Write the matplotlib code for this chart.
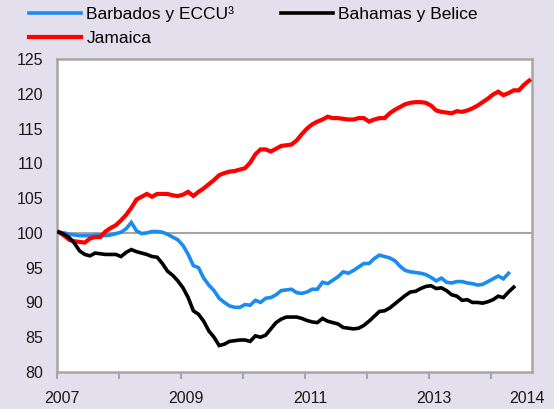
import numpy as np
import matplotlib
matplotlib.use("Agg")
import matplotlib.pyplot as plt
import matplotlib.transforms as mtransforms

plt.rcParams["font.family"] = ["Liberation Sans", "DejaVu Sans"]

# monthly index values, starting January 2007
barbados = [100.1, 100.0, 99.8, 99.7, 99.6, 99.6, 99.6, 99.7, 99.7, 99.6, 99.7, 99.9,
            100.1, 100.6, 101.5, 100.3, 99.9, 100.0, 100.2, 100.2, 100.1, 99.8, 99.4, 99.0,
            98.2, 96.9, 95.3, 95.0, 93.5, 92.5, 91.7, 90.6, 90.0, 89.5, 89.3, 89.3,
            89.7, 89.6, 90.3, 90.0, 90.6, 90.7, 91.1, 91.7, 91.8, 91.9, 91.4, 91.3,
            91.5, 91.9, 91.9, 92.9, 92.7, 93.2, 93.7, 94.4, 94.2, 94.6, 95.1, 95.6,
            95.6, 96.3, 96.8, 96.6, 96.4, 96.0, 95.2, 94.6, 94.4, 94.3, 94.2, 94.0,
            93.6, 93.1, 93.5, 92.9, 92.8, 93.0, 93.0, 92.8, 92.7, 92.5, 92.6, 93.0,
            93.4, 93.8, 93.4, 94.2]

bahamas = [100.1, 99.8, 99.3, 98.5, 97.4, 96.9, 96.7, 97.1, 97.0, 96.9, 96.9, 96.9,
           96.6, 97.2, 97.6, 97.3, 97.1, 96.9, 96.6, 96.5, 95.6, 94.5, 93.9, 93.1,
           92.1, 90.7, 88.8, 88.3, 87.3, 85.9, 85.0, 83.8, 84.0, 84.4, 84.5, 84.6,
           84.6, 84.4, 85.2, 85.0, 85.3, 86.2, 87.1, 87.6, 87.9, 87.9, 87.9, 87.7,
           87.4, 87.2, 87.1, 87.7, 87.3, 87.1, 86.9, 86.4, 86.3, 86.2, 86.3, 86.7,
           87.3, 88.0, 88.7, 88.8, 89.2, 89.8, 90.4, 91.0, 91.5, 91.6, 92.0, 92.3,
           92.4, 92.0, 92.1, 91.7, 91.1, 90.9, 90.3, 90.4, 90.0, 90.0, 89.9, 90.1,
           90.4, 90.9, 90.7, 91.5, 92.2]

jamaica = [100.1, 99.6, 99.0, 98.8, 98.7, 98.6, 99.2, 99.4, 99.4, 100.2, 100.7, 101.1,
           101.8, 102.6, 103.6, 104.8, 105.2, 105.6, 105.2, 105.6, 105.6, 105.6, 105.4, 105.3,
           105.5, 105.9, 105.3, 105.9, 106.4, 107.0, 107.6, 108.3, 108.6, 108.8, 108.9, 109.1,
           109.3, 110.1, 111.3, 112.0, 112.0, 111.7, 112.1, 112.5, 112.6, 112.7, 113.3, 114.2,
           115.0, 115.6, 116.0, 116.3, 116.7, 116.5, 116.5, 116.4, 116.3, 116.3, 116.5, 116.5,
           116.0, 116.3, 116.5, 116.5, 117.2, 117.7, 118.1, 118.5, 118.7, 118.8, 118.8, 118.7,
           118.3, 117.6, 117.4, 117.3, 117.2, 117.5, 117.4, 117.6, 117.9, 118.3, 118.8, 119.3,
           119.9, 120.3, 119.8, 120.1, 120.5, 120.5, 121.3, 121.9]

labels = ["Barbados y ECCU³", "Jamaica", "Bahamas y Belice"]
colors = ["#1a8cf0", "#ff0000", "#000000"]

year_ticks = [2007, 2008, 2009, 2010, 2011, 2012, 2013, 2014]
year_labels = ["2007", "2009", "2011", "2013", "2014"]
year_label_pos = [2007, 2009, 2011, 2013, 2014.5]

bg = "#e4dfec"
grey = "#a6a6a6"

fig = plt.figure(figsize=(5.54, 4.09), dpi=100, facecolor=bg)
ax = fig.add_axes([57 / 554, 1 - 372 / 409, 475 / 554, 313 / 409])
ax.set_facecolor("white")


def month_x(n):
    return 2007.032 + np.arange(n) / 12


ax.axhline(100, color=grey, lw=1.5, zorder=1)
series = [barbados, jamaica, bahamas]
for vals, lab, col in zip(series, labels, colors):
    lw = 3.0 if lab == "Jamaica" else 2.6
    ax.plot(month_x(len(vals)), vals, color=col, lw=lw, label=lab,
            solid_joinstyle="miter", zorder=3)

ax.set_xlim(2007, 2014.66)
ax.set_ylim(80, 125)
ax.set_yticks(np.arange(80, 126, 5))
ax.tick_params(axis="y", length=0, pad=10, labelsize=11.5, labelcolor="#1a1a1a")

ax.xaxis.remove_overlapping_locs = False
ax.set_xticks(year_label_pos)
ax.set_xticklabels(year_labels)
ax.set_xticks(year_ticks, minor=True)
ax.tick_params(axis="x", which="major", length=0, pad=14, labelsize=11.5,
               labelcolor="#1a1a1a")
ax.tick_params(axis="x", which="minor", length=5, width=1.5, color=grey, direction="out")

shift = mtransforms.ScaledTranslation(5 / 100, 0, fig.dpi_scale_trans)
for lbl in ax.get_xticklabels():
    lbl.set_transform(lbl.get_transform() + shift)

for spine in ax.spines.values():
    spine.set_color(grey)
    spine.set_linewidth(1.8)

fig.legend(loc="upper left", bbox_to_anchor=(29 / 554, 1 - 6 / 409), ncol=2,
           frameon=False, fontsize=12.5, handlelength=3.0, handletextpad=0.3,
           columnspacing=2.7, labelspacing=0.5, borderpad=0, borderaxespad=0)

fig.savefig("out.png", dpi=100, facecolor=bg)
